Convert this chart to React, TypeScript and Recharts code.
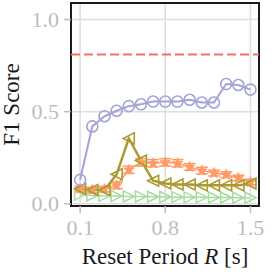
import React from 'react'
import {
  ComposedChart, Line, XAxis, YAxis, CartesianGrid,
  ReferenceLine, ReferenceArea, ErrorBar,
} from 'recharts'

const periods = [0.1, 0.2, 0.3, 0.4, 0.5, 0.6, 0.7, 0.8, 0.9, 1.0, 1.1, 1.2, 1.3, 1.4, 1.5]
const circleScores = [0.13, 0.42, 0.475, 0.505, 0.53, 0.54, 0.555, 0.555, 0.555, 0.565, 0.55, 0.55, 0.65, 0.645, 0.62]
const leftTriScores = [0.08, 0.075, 0.075, 0.16, 0.355, 0.235, 0.125, 0.11, 0.105, 0.105, 0.1, 0.1, 0.1, 0.1, 0.11]
const starScores = [0.08, 0.075, 0.08, 0.1, 0.185, 0.225, 0.22, 0.225, 0.22, 0.2, 0.18, 0.167, 0.158, 0.14, 0.118]
const starErrors = [0.015, 0.015, 0.015, 0.018, 0.02, 0.02, 0.02, 0.02, 0.02, 0.018, 0.018, 0.016, 0.016, 0.015, 0.015]
const rightTriScores = [0.05, 0.045, 0.043, 0.042, 0.04, 0.04, 0.038, 0.037, 0.036, 0.035, 0.035, 0.034, 0.034, 0.033, 0.033]
const baselineScore = 0.81

const xTicks = [0.1, 0.8, 1.5]
const yTicks = [0, 0.5, 1.0]

const data = periods.map((p, i) => ({
  period: p,
  circle: circleScores[i],
  leftTri: leftTriScores[i],
  star: starScores[i],
  starErr: starErrors[i],
  rightTri: rightTriScores[i],
}))

const BLUE = '#a3a3d8'
const OLIVE = '#ab9a2e'
const ORANGE = '#ff9a66'
const GREEN = '#a6dca0'
const RED = '#f7705e'
const TICK = '#bdbdbd'
const SERIF = 'Liberation Serif'

const circleDot = (props: any) => {
  const { cx, cy, index } = props
  return <circle key={index} cx={cx} cy={cy} r={5.5} fill="none" stroke={BLUE} strokeWidth={1.6} />
}

const leftTriDot = (props: any) => {
  const { cx, cy, index } = props
  const s = 5.5
  return (
    <path key={index} d={`M${cx - s},${cy} L${cx + s},${cy - s} L${cx + s},${cy + s} Z`}
      fill="none" stroke={OLIVE} strokeWidth={1.6} />
  )
}

const rightTriDot = (props: any) => {
  const { cx, cy, index } = props
  const s = 5.5
  return (
    <path key={index} d={`M${cx + s},${cy} L${cx - s},${cy - s} L${cx - s},${cy + s} Z`}
      fill="none" stroke={GREEN} strokeWidth={1.5} />
  )
}

const starDot = (props: any) => {
  const { cx, cy, index } = props
  const pts: string[] = []
  for (let k = 0; k < 10; k++) {
    const r = k % 2 === 0 ? 5.5 : 2.4
    const a = -Math.PI / 2 + (k * Math.PI) / 5
    pts.push(`${cx + r * Math.cos(a)},${cy + r * Math.sin(a)}`)
  }
  return <polygon key={index} points={pts.join(' ')} fill={ORANGE} stroke={ORANGE} strokeWidth={0.8} />
}

const XTick = (props: any) => (
  <text x={props.x} y={props.y} dy={17} textAnchor="middle" fill={TICK} fontSize={22} fontFamily={SERIF}>
    {Number(props.payload.value).toFixed(1)}
  </text>
)

const YTick = (props: any) => (
  <text x={props.x} y={props.y} dy={7} textAnchor="end" fill={TICK} fontSize={22} fontFamily={SERIF}>
    {Number(props.payload.value).toFixed(1)}
  </text>
)

const XTitle = () => (
  <text x={165} y={264} textAnchor="middle" fill="#1a1a1a" fontSize={23} fontFamily={SERIF}>
    Reset Period <tspan fontStyle="italic">R</tspan> [s]
  </text>
)

const YTitle = () => (
  <text x={19} y={104.5} transform="rotate(-90 19 104.5)" textAnchor="middle" fill="#1a1a1a"
    fontSize={23} fontFamily={SERIF}>
    F1 Score
  </text>
)

export default function App() {
  return (
    <div style={{ position: 'absolute', left: 0, top: 0, background: '#fff' }}>
      <ComposedChart width={273} height={273} data={data}
        margin={{ top: 3, right: 14, bottom: 0, left: 0 }}>
        <CartesianGrid stroke="#dedede" strokeWidth={1.5} horizontalValues={yTicks} verticalValues={xTicks} />
        <XAxis
          dataKey="period"
          type="number"
          domain={[0.025, 1.57]}
          ticks={xTicks}
          axisLine={false}
          tickLine={{ stroke: TICK, strokeWidth: 1.5 }}
          tickSize={7}
          tickMargin={5}
          height={67}
          tick={XTick}
          label={{ content: XTitle }}
        />
        <YAxis
          type="number"
          domain={[-0.012, 1.09]}
          ticks={yTicks}
          axisLine={false}
          tickLine={{ stroke: TICK, strokeWidth: 1.5 }}
          tickSize={7}
          tickMargin={5}
          width={71}
          tick={YTick}
          label={{ content: YTitle }}
        />
        <ReferenceLine y={baselineScore} stroke={RED} strokeWidth={2} strokeDasharray="9 4" />
        <Line dataKey="rightTri" stroke={GREEN} strokeWidth={1.5} dot={rightTriDot}
          activeDot={false} isAnimationActive={false} />
        <Line dataKey="star" stroke={ORANGE} strokeWidth={1.5} dot={starDot}
          activeDot={false} isAnimationActive={false}>
          <ErrorBar dataKey="starErr" width={6} stroke={ORANGE} strokeWidth={1.5} direction="y" />
        </Line>
        <Line dataKey="leftTri" stroke={OLIVE} strokeWidth={2.5} dot={leftTriDot}
          activeDot={false} isAnimationActive={false} />
        <Line dataKey="circle" stroke={BLUE} strokeWidth={2} dot={circleDot}
          activeDot={false} isAnimationActive={false} />
        <ReferenceArea x1={0.025} x2={1.57} y1={-0.012} y2={1.09}
          fill="none" stroke="#1a1a1a" strokeWidth={2} />
      </ComposedChart>
    </div>
  )
}
